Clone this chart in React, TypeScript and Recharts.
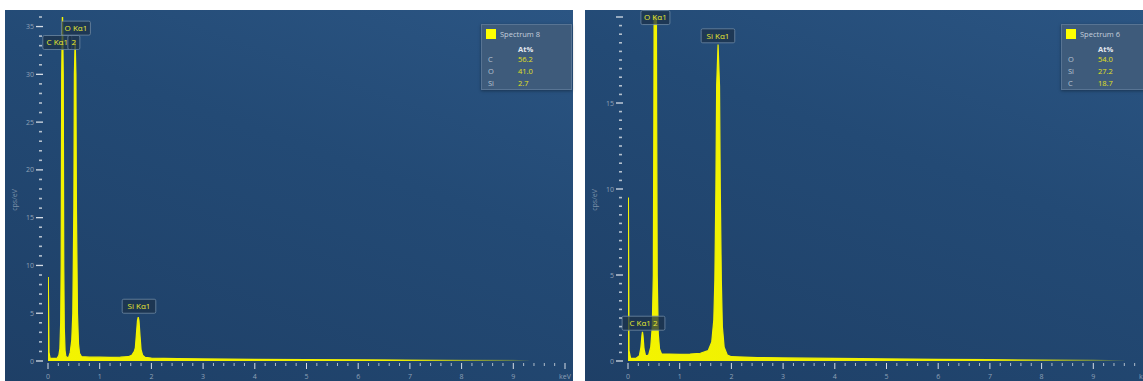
import React from 'react';
import { AreaChart, Area, XAxis, YAxis, ReferenceDot } from 'recharts';

// keV tick positions (every 0.2) and labels for the whole keV
const KEV_TICKS = Array.from({ length: 51 }, (_, i) => Math.round(i * 2) / 10);
const KEV_LABELS = ['0', '1', '2', '3', '4', '5', '6', '7', '8', '9', 'keV'];

// y ticks: left every 1 cps/eV up to 36, right every 0.5 up to 20
const LEFT_Y_TICKS = Array.from({ length: 37 }, (_, i) => i);
const RIGHT_Y_TICKS = Array.from({ length: 41 }, (_, i) => i / 2);
const LEFT_Y_LABELS = [0, 5, 10, 15, 20, 25, 30, 35];
const RIGHT_Y_LABELS = [0, 5, 10, 15];

// Spectrum 8 — [keV, cps/eV]
const SPECTRUM_8: [number, number][] = [
  [0, 0], [0.006, 8.8], [0.02, 0.9], [0.04, 0.3], [0.12, 0.28], [0.18, 0.3],
  [0.21, 0.6], [0.23, 1.3], [0.245, 4], [0.255, 10], [0.265, 30], [0.28, 37],
  [0.295, 30], [0.305, 10], [0.315, 3.5], [0.33, 1.1], [0.345, 0.5], [0.37, 0.35],
  [0.4, 0.4], [0.43, 0.9], [0.46, 2.2], [0.48, 5], [0.5, 16], [0.51, 30],
  [0.525, 33.6], [0.54, 30], [0.55, 16], [0.57, 5], [0.59, 1.8], [0.61, 0.8],
  [0.65, 0.45], [0.8, 0.4], [1.0, 0.4], [1.2, 0.38], [1.4, 0.4], [1.55, 0.45],
  [1.62, 0.6], [1.67, 1.0], [1.69, 1.4], [1.71, 2.8], [1.73, 4.2], [1.745, 4.6],
  [1.76, 4.2], [1.78, 2.6], [1.8, 1.2], [1.83, 0.6], [1.88, 0.38], [2.0, 0.3],
  [2.5, 0.25], [3, 0.22], [4, 0.18], [5, 0.15], [6, 0.12], [7, 0.1], [8, 0.08],
  [9, 0.06], [9.3, 0],
];

// Spectrum 6 — [keV, cps/eV]
const SPECTRUM_6: [number, number][] = [
  [0, 0], [0.008, 9.5], [0.02, 0.6], [0.05, 0.15], [0.15, 0.15], [0.22, 0.3],
  [0.25, 0.8], [0.27, 1.5], [0.28, 1.7], [0.29, 1.5], [0.31, 0.7], [0.34, 0.3],
  [0.4, 0.35], [0.44, 0.8], [0.47, 2.0], [0.49, 5], [0.5, 14], [0.505, 20],
  [0.52, 23], [0.535, 23], [0.55, 20], [0.555, 14], [0.565, 5], [0.585, 1.6],
  [0.61, 0.7], [0.65, 0.4], [0.8, 0.4], [1.0, 0.38], [1.2, 0.4], [1.4, 0.45],
  [1.55, 0.6], [1.62, 1.1], [1.66, 2.4], [1.68, 4.7], [1.7, 10], [1.715, 16],
  [1.742, 18.4], [1.77, 16], [1.785, 10], [1.805, 4.7], [1.825, 2.0], [1.86, 0.8],
  [1.92, 0.35], [2.0, 0.25], [2.5, 0.2], [3, 0.18], [4, 0.15], [5, 0.12], [6, 0.1],
  [7, 0.08], [8, 0.06], [9, 0.05], [9.6, 0],
];

// peak annotations: [text, keV, cps/eV]
const LABELS_8: [string, number, number][] = [
  ['O Kα1', 0.54, 34.1],
  ['C Kα1', 0.18, 32.6],
  ['2', 0.5, 32.6],
  ['Si Kα1', 1.76, 5.0],
];
const LABELS_6: [string, number, number][] = [
  ['O Kα1', 0.53, 19.56],
  ['Si Kα1', 1.74, 18.5],
  ['C Kα1  2', 0.3, 1.79],
];

// quantification tables
const ELEMENTS_8 = ['C', 'O', 'Si'];
const AT_PCT_8 = ['56.2', '41.0', '2.7'];
const ELEMENTS_6 = ['O', 'Si', 'C'];
const AT_PCT_6 = ['54.0', '27.2', '18.7'];

const FONT = '"Open Sans", "Noto Sans", sans-serif';
const YELLOW = '#f4f400';

const KevTick = (props: any) => {
  const { x, y, payload } = props;
  const v = payload.value;
  const major = Math.abs(v - Math.round(v)) < 1e-6;
  return (
    <g>
      <line x1={x} x2={x} y1={y + 2} y2={y + (major ? 8 : 5)} stroke={major ? '#d6dde6' : '#aebbc9'} strokeWidth={1} />
      {major && (
        <text x={x} y={y + 18} textAnchor="middle" fontSize={7} fill="#8fa1b6" fontFamily={FONT}>
          {KEV_LABELS[Math.round(v)]}
        </text>
      )}
    </g>
  );
};

const makeYTick = (labels: number[]) => (props: any) => {
  const { x, y, payload } = props;
  const v = payload.value;
  const major = labels.includes(v) || v === 20;
  return (
    <g>
      <line x1={x - (major ? 12 : 9)} x2={x - (major ? 5 : 6)} y1={y} y2={y} stroke={major ? '#d6dde6' : '#b4c0cd'} strokeWidth={major ? 1.3 : 1.6} />
      {labels.includes(v) && (
        <text x={x - 14} y={y + 2.5} textAnchor="end" fontSize={7} fill="#8fa1b6" fontFamily={FONT}>
          {v}
        </text>
      )}
    </g>
  );
};

const peakLabel = (text: string) => (props: any) => {
  const { cx, cy } = props;
  const w = text.length <= 1 ? 12 : text.length * 4.6 + 6;
  return (
    <g>
      <rect x={cx - w / 2} y={cy - 14} width={w} height={14} rx={1.5} fill="rgba(28,50,74,0.75)" stroke="#6f89a3" strokeWidth={0.8} />
      <text x={cx} y={cy - 4.3} textAnchor="middle" fontSize={8} fill="#e8e830" fontFamily={FONT}>
        {text}
      </text>
    </g>
  );
};

function QuantBox({ left, name, elements, values }: { left: number; name: string; elements: string[]; values: string[] }) {
  return (
    <div style={{
      position: 'absolute', left, top: 14, width: 91, height: 66, background: '#3e5b7b',
      border: '1px solid #587493', boxSizing: 'border-box', fontFamily: FONT, fontSize: 7.5,
      boxShadow: '0 1px 3px rgba(0,0,0,0.35)',
    }}>
      <div style={{ position: 'absolute', left: 4, top: 4, width: 10, height: 10, background: '#ffff00' }} />
      <div style={{ position: 'absolute', left: 18, top: 4, lineHeight: '10px', color: '#c6d0db' }}>{name}</div>
      <div style={{ position: 'absolute', left: 36, top: 19, lineHeight: '10px', color: '#e4e9ef', fontWeight: 700 }}>At%</div>
      {elements.map((el, i) => (
        <React.Fragment key={el}>
          <div style={{ position: 'absolute', left: 6, top: 29 + i * 12, lineHeight: '10px', color: '#b7c3d0' }}>{el}</div>
          <div style={{ position: 'absolute', left: 36, top: 29 + i * 12, lineHeight: '10px', color: '#e0e020' }}>{values[i]}</div>
        </React.Fragment>
      ))}
    </div>
  );
}

function SpectrumPanel({ left, id, spectrum, yMax, yTicks, yLabels, labels, name, elements, values, fadeAt }: any) {
  const data = spectrum.map(([kev, cps]: [number, number]) => ({ kev, cps }));
  return (
    <div style={{
      position: 'absolute', left, top: 10, width: 568, height: 380,
      background: 'linear-gradient(200deg, #2b5583 0%, #234a75 40%, #1e3f66 100%)',
    }}>
      <div style={{
        position: 'absolute', left: 9, top: 190, transform: 'translate(-50%,-50%) rotate(-90deg)',
        fontFamily: FONT, fontSize: 7, color: '#7d92aa', whiteSpace: 'nowrap',
      }}>cps/eV</div>
      <AreaChart width={568} height={380} data={data} margin={{ top: 7, right: 8, left: 0, bottom: 0 }}>
        <defs>
          <linearGradient id={id} x1="0" y1="0" x2="1" y2="0">
            <stop offset={0} stopColor={YELLOW} stopOpacity={1} />
            <stop offset={fadeAt} stopColor={YELLOW} stopOpacity={0.95} />
            <stop offset={1} stopColor={YELLOW} stopOpacity={0.1} />
          </linearGradient>
        </defs>
        <XAxis type="number" dataKey="kev" domain={[0, 10]} ticks={KEV_TICKS} interval={0}
          tick={KevTick} tickLine={false} axisLine={false} tickSize={0} tickMargin={0} height={29} allowDataOverflow />
        <YAxis type="number" domain={[0, yMax]} ticks={yTicks} interval={0} tick={makeYTick(yLabels)}
          tickLine={false} axisLine={false} tickSize={0} tickMargin={0} width={43} allowDataOverflow />
        <Area type="linear" dataKey="cps" stroke={`url(#${id})`} fill={`url(#${id})`} fillOpacity={1}
          strokeWidth={1.2} dot={false} activeDot={false} isAnimationActive={false} />
        {labels.map(([text, kev, cps]: [string, number, number]) => (
          <ReferenceDot key={text + kev} x={kev} y={cps} r={0} shape={peakLabel(text)} />
        ))}
      </AreaChart>
      <QuantBox left={476} name={name} elements={elements} values={values} />
    </div>
  );
}

export default function App() {
  return (
    <div style={{ position: 'fixed', left: 0, top: 0, width: 1143, height: 381, overflow: 'hidden', background: '#ffffff' }}>
      <SpectrumPanel left={5} id="fade8" spectrum={SPECTRUM_8} yMax={36} yTicks={LEFT_Y_TICKS}
        yLabels={LEFT_Y_LABELS} labels={LABELS_8} name="Spectrum 8" elements={ELEMENTS_8} values={AT_PCT_8} fadeAt={0.7} />
      <SpectrumPanel left={585} id="fade6" spectrum={SPECTRUM_6} yMax={20} yTicks={RIGHT_Y_TICKS}
        yLabels={RIGHT_Y_LABELS} labels={LABELS_6} name="Spectrum 6" elements={ELEMENTS_6} values={AT_PCT_6} fadeAt={0.7} />
    </div>
  );
}
